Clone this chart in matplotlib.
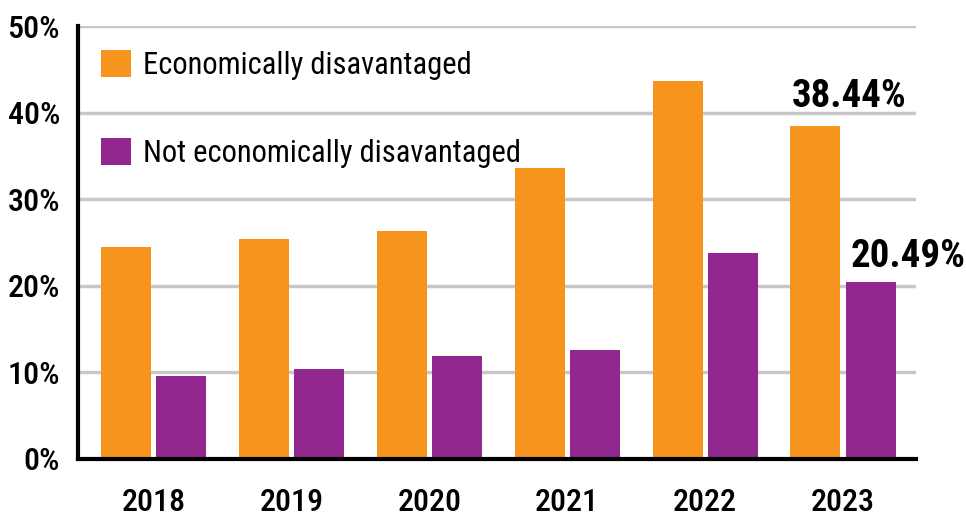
import matplotlib
matplotlib.use("Agg")
import matplotlib.pyplot as plt
import numpy as np

years = ["2018", "2019", "2020", "2021", "2022", "2023"]
econ_disadv = [24.5, 25.4, 26.3, 33.6, 43.6, 38.44]
not_econ_disadv = [9.6, 10.4, 11.9, 12.6, 23.8, 20.49]
series_labels = ["Economically disavantaged", "Not economically disavantaged"]
yticks = [0, 10, 20, 30, 40, 50]
ytick_labels = ["0%", "10%", "20%", "30%", "40%", "50%"]

plt.rcParams["font.family"] = ["Roboto Condensed", "DejaVu Sans"]

orange = "#F7941D"
purple = "#92278F"

fig = plt.figure(figsize=(9.66, 5.18), dpi=100)
ax = fig.add_axes([78/966, 59/518, 838/966, 433/518])

x = np.arange(len(years))
w = 0.363
off = 0.2
ax.bar(x - off, econ_disadv, w, color=orange, label=series_labels[0], zorder=3)
ax.bar(x + off, not_econ_disadv, w, color=purple, label=series_labels[1], zorder=3)

ax.set_xlim(-0.55, 5.53)
ax.set_ylim(0, 50)
ax.set_yticks(yticks)
ax.set_yticklabels(ytick_labels)
ax.set_xticks(x)
ax.set_xticklabels(years)
ax.tick_params(axis="both", length=0, labelsize=23)
ax.tick_params(axis="y", pad=13)
ax.tick_params(axis="x", pad=21)
for lab in ax.get_xticklabels() + ax.get_yticklabels():
    lab.set_fontweight("medium")

ax.yaxis.grid(True, color="#c8c8c8", linewidth=2.5, zorder=0)
ax.set_axisbelow(True)
for s in ["top", "right"]:
    ax.spines[s].set_visible(False)
for s in ["left", "bottom"]:
    ax.spines[s].set_linewidth(3)
    ax.spines[s].set_color("black")
    ax.spines[s].set_zorder(4)

leg = ax.legend(loc="upper left", bbox_to_anchor=(0.027, 0.945), frameon=False,
                fontsize=22, handlelength=1.0, handleheight=1.0, handletextpad=0.4,
                labelspacing=1.9, borderaxespad=0, borderpad=0)

ax.annotate(f"{econ_disadv[-1]:.2f}%", (x[-1] - off - w/2, econ_disadv[-1]),
            xytext=(1, 8), textcoords="offset points", ha="left", va="bottom",
            fontsize=28, fontweight="bold")
ax.annotate(f"{not_econ_disadv[-1]:.2f}%", (x[-1] + off - w/2, not_econ_disadv[-1]),
            xytext=(4, 5), textcoords="offset points", ha="left", va="bottom",
            fontsize=28, fontweight="bold")

fig.savefig("out.png", dpi=100)
